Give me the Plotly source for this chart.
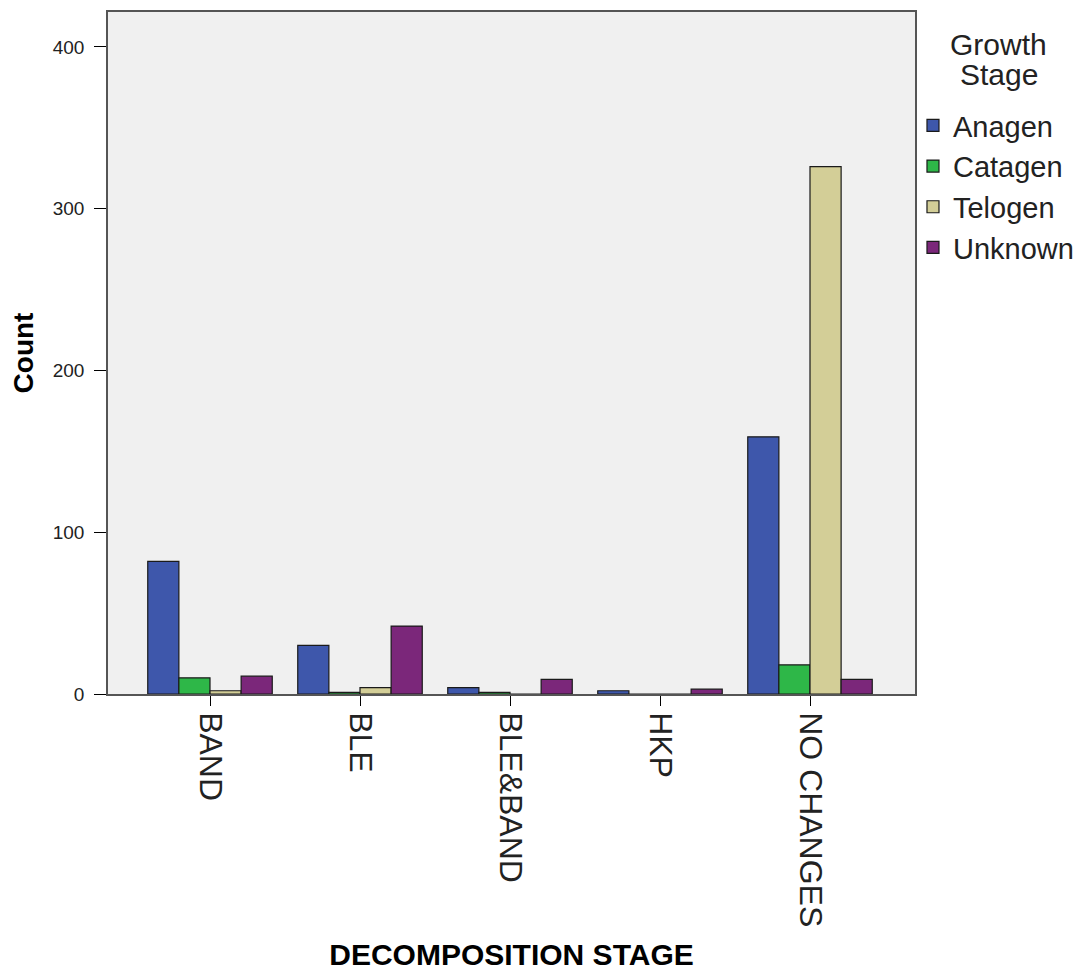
import plotly.graph_objects as go

stages = ["BAND", "BLE", "BLE&BAND", "HKP", "NO CHANGES"]
anagen = [82, 30, 4, 2, 159]
catagen = [10, 1, 1, 0, 18]
telogen = [2, 4, 0, 0, 326]
unknown = [11, 42, 9, 3, 9]

series = [
    ("Anagen", anagen, "#3E57AB"),
    ("Catagen", catagen, "#2EB748"),
    ("Telogen", telogen, "#D3CE97"),
    ("Unknown", unknown, "#7B277A"),
]

FONT = "Liberation Sans, Arial, sans-serif"

fig = go.Figure()
for name, vals, color in series:
    fig.add_trace(
        go.Bar(
            x=stages,
            y=vals,
            name=name,
            marker=dict(color=color, line=dict(color="#1a1a1a", width=1.2)),
        )
    )

# legend title drawn as centred annotations (SPSS style, tight line spacing)
for line, ypos in [("Growth", 0.953), ("Stage", 0.908)]:
    fig.add_annotation(
        text=line,
        xref="paper",
        yref="paper",
        x=1.104,
        y=ypos,
        xanchor="center",
        yanchor="middle",
        showarrow=False,
        font=dict(size=30, color="#222222"),
    )

fig.update_layout(
    width=1076,
    height=964,
    barmode="group",
    bargap=0.17,
    bargroupgap=0,
    plot_bgcolor="#F0F0F0",
    paper_bgcolor="white",
    margin=dict(l=100, r=169, t=2, b=278),
    font=dict(family=FONT, color="black"),
    legend=dict(
        font=dict(size=29, color="#222222"),
        x=0.9975,
        y=0.871,
        xanchor="left",
        yanchor="top",
        tracegroupgap=0,
        itemwidth=30,
        bgcolor="rgba(0,0,0,0)",
    ),
    xaxis=dict(
        range=[-0.68, 4.70],
        tickangle=90,
        tickfont=dict(size=32, color="#222222"),
        ticks="outside",
        ticklen=10,
        tickcolor="black",
        showline=True,
        linecolor="#555555",
        linewidth=1.5,
        mirror=True,
        title=dict(text="<b>DECOMPOSITION STAGE</b>", font=dict(size=30), standoff=18),
    ),
    yaxis=dict(
        range=[0, 421.6],
        tickvals=[0, 100, 200, 300, 400],
        tickfont=dict(size=19, color="#222222"),
        ticks="outside",
        ticklen=12,
        ticklabelstandoff=6,
        tickcolor="black",
        showgrid=False,
        zeroline=False,
        showline=True,
        linecolor="#555555",
        linewidth=1.5,
        mirror=True,
        title=dict(text="<b>Count</b>", font=dict(size=28), standoff=22),
    ),
)

fig.write_html("out.html")
